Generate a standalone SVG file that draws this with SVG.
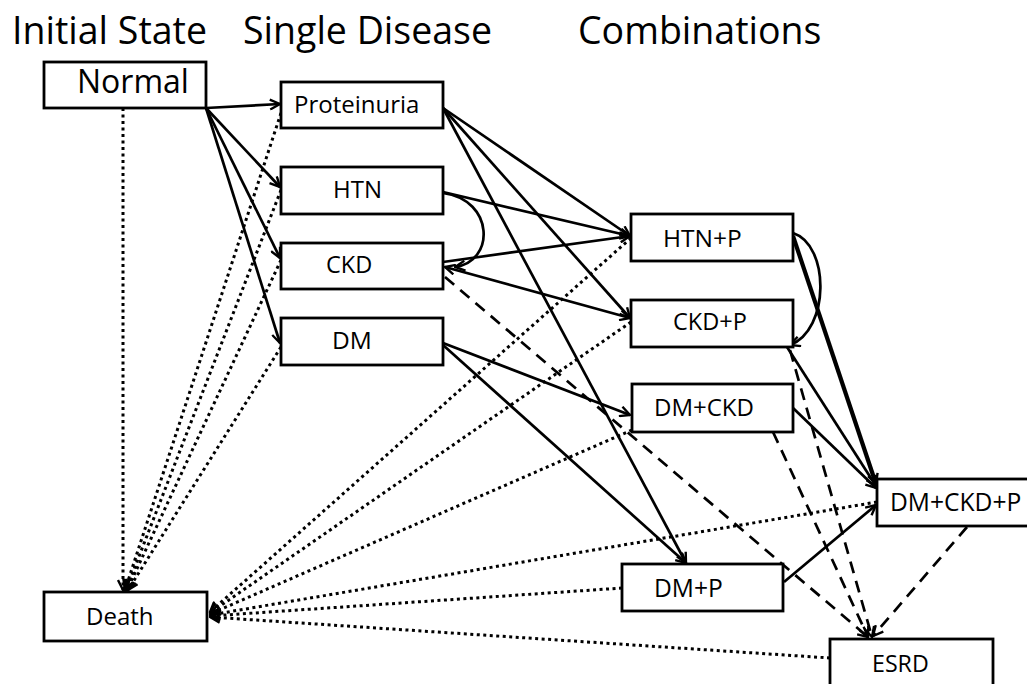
<svg xmlns="http://www.w3.org/2000/svg" width="1027" height="684" viewBox="0 0 1027 684">
<style>
.bx{fill:#fff;stroke:#000;stroke-width:2.8}
.t{font-family:"Open Sans","Noto Sans","Liberation Sans",sans-serif;fill:#000}
.s{fill:none;stroke:#000;stroke-width:2.7}
.th{fill:none;stroke:#000;stroke-width:4.2}
.d{fill:none;stroke:#000;stroke-width:2.7;stroke-dasharray:12 8}
.o{fill:none;stroke:#000;stroke-width:3;stroke-dasharray:3 3.5}
</style>
<defs>
<marker id="a" viewBox="0 0 12 12" refX="11" refY="6" markerWidth="12" markerHeight="12" markerUnits="userSpaceOnUse" orient="auto">
<path d="M1,1 L11,6 L1,11" fill="none" stroke="#000" stroke-width="2.4"/>
</marker>
<marker id="b" viewBox="0 0 12 12" refX="11" refY="6" markerWidth="12" markerHeight="12" markerUnits="userSpaceOnUse" orient="auto-start-reverse">
<path d="M1,1 L11,6 L1,11" fill="none" stroke="#000" stroke-width="2.4"/>
</marker>
</defs>
<rect width="1027" height="684" fill="#fff"/>
<g id="titles" class="t" font-size="37.5">
<text x="12" y="44">Initial State</text>
<text x="243" y="44">Single Disease</text>
<text x="578" y="44">Combinations</text>
</g>
<g id="connectors">
<path class="s" marker-end="url(#a)" d="M206,108 L280,104"/>
<path class="s" marker-end="url(#a)" d="M206,108 L280,187"/>
<path class="s" marker-end="url(#a)" d="M206,108 L280,258"/>
<path class="s" marker-end="url(#a)" d="M206,108 L280,343"/>
<path class="s" marker-end="url(#a)" d="M443,108 L630,236"/>
<path class="s" marker-end="url(#a)" d="M443,108 L630,318"/>
<path class="s" marker-end="url(#a)" d="M443,108 L686,563"/>
<path class="s" marker-end="url(#a)" d="M443,192 L630,236"/>
<path class="s" marker-end="url(#a)" d="M443,193 C495,200 495,262 455,267"/>
<path class="s" marker-end="url(#a)" d="M443,262 L630,236"/>
<path class="s" marker-start="url(#b)" marker-end="url(#b)" d="M445,267 L630,318"/>
<path class="s" marker-end="url(#a)" d="M443,343 L630,415"/>
<path class="s" marker-end="url(#a)" d="M443,345 L686,563"/>
<path class="s" marker-end="url(#a)" d="M793,233 C830,245 830,330 790,345"/>
<path class="th" marker-end="url(#a)" d="M793,236 L876,484"/>
<path class="s" marker-end="url(#a)" d="M787,347 L876,486"/>
<path class="s" marker-end="url(#a)" d="M793,408 L876,488"/>
<path class="s" marker-end="url(#a)" d="M784,582 L876,505"/>
<path class="d" marker-end="url(#a)" d="M445,277 L868,637"/>
<path class="d" marker-end="url(#a)" d="M790,350 L872,637"/>
<path class="d" marker-end="url(#a)" d="M773,432 L868,637"/>
<path class="d" marker-end="url(#a)" d="M967,527 L873,636"/>
<path class="o" marker-end="url(#a)" d="M123,108 L123,590"/>
<path class="o" marker-end="url(#a)" d="M281,113 L125,590"/>
<path class="o" marker-end="url(#a)" d="M281,190 L126,590"/>
<path class="o" marker-end="url(#a)" d="M281,260 L127,590"/>
<path class="o" marker-end="url(#a)" d="M281,347 L128,590"/>
<path class="o" marker-end="url(#a)" d="M631,238 L210,612"/>
<path class="o" marker-end="url(#a)" d="M631,322 L210,613"/>
<path class="o" marker-end="url(#a)" d="M632,430 L210,614"/>
<path class="o" marker-end="url(#a)" d="M877,502 L210,615"/>
<path class="o" marker-end="url(#a)" d="M622,588 L210,616"/>
<path class="o" marker-end="url(#a)" d="M830,658 L210,617"/>
</g>
<g id="normal"><rect class="bx" x="44" y="62" width="162" height="46"/><text class="t" x="77" y="93" font-size="32">Normal</text></g>
<g id="proteinuria"><rect class="bx" x="281" y="82" width="162" height="46"/><text class="t" x="294" y="113" font-size="24">Proteinuria</text></g>
<g id="htn"><rect class="bx" x="281" y="167" width="162" height="47"/><text class="t" x="333" y="198" font-size="24">HTN</text></g>
<g id="ckd"><rect class="bx" x="281" y="243" width="162" height="46"/><text class="t" x="326" y="273" font-size="23.5">CKD</text></g>
<g id="dm"><rect class="bx" x="281" y="318" width="162" height="47"/><text class="t" x="332" y="349" font-size="24.5">DM</text></g>
<g id="htnp"><rect class="bx" x="631" y="214" width="162" height="47"/><text class="t" x="663" y="247" font-size="24.5">HTN+P</text></g>
<g id="ckdp"><rect class="bx" x="631" y="300" width="162" height="47"/><text class="t" x="673" y="330" font-size="23.5">CKD+P</text></g>
<g id="dmckd"><rect class="bx" x="632" y="384" width="161" height="48"/><text class="t" x="654" y="416" font-size="24">DM+CKD</text></g>
<g id="dmp"><rect class="bx" x="622" y="564" width="161" height="47"/><text class="t" x="654" y="597" font-size="24.6">DM+P</text></g>
<g id="dmckdp"><rect class="bx" x="877" y="479" width="155" height="47"/><text class="t" x="890" y="511" font-size="24.6">DM+CKD+P</text></g>
<g id="esrd"><rect class="bx" x="830" y="639" width="163" height="50"/><text class="t" x="872" y="672" font-size="23.2">ESRD</text></g>
<g id="death"><rect class="bx" x="44" y="592" width="163" height="49"/><text class="t" x="86" y="625" font-size="24">Death</text></g>
</svg>
